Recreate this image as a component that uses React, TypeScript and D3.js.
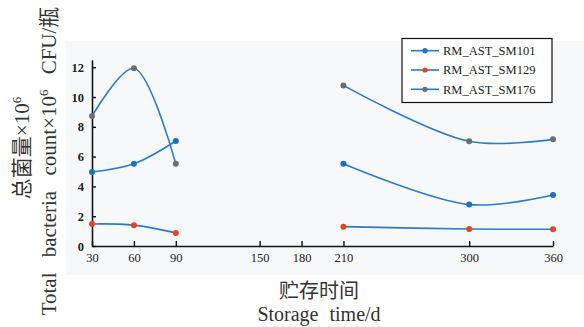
import * as d3 from "d3";
import { useEffect, useRef } from "react";

const width = 584;
const height = 327;

// storage days and bacteria counts (x10^6 CFU per bottle)
const days = [30, 60, 90, 210, 300, 360];
const sm101 = [4.97, 5.52, 7.05, 5.52, 2.78, 3.43];
const sm129 = [1.48, 1.4, 0.88, 1.3, 1.14, 1.12];
const sm176 = [8.72, 11.93, 5.52, 10.78, 7.03, 7.16];
// sampling was done in two runs, the lines are not joined between them
const runs = [
  [0, 1, 2],
  [3, 4, 5],
];

const seriesNames = ["RM_AST_SM101", "RM_AST_SM129", "RM_AST_SM176"];
const seriesValues = [sm101, sm129, sm176];
const dotColors = ["#1c6fc2", "#e8441f", "#6e6e6e"];
const lineColor = "#2a7cc8";

const xTicks = [30, 60, 90, 150, 180, 210, 300, 360];
const yTicks = [0, 2, 4, 6, 8, 10, 12];

const serif = "'Liberation Serif', 'Noto Sans CJK SC', serif";

export default function App() {
  const xAxisRef = useRef<SVGGElement | null>(null);
  const yAxisRef = useRef<SVGGElement | null>(null);

  const x = d3.scaleLinear().domain([30, 360]).range([92, 553]);
  const y = d3.scaleLinear().domain([0, 12.5]).range([246, 59.8]);

  const line = d3
    .line<[number, number]>()
    .x((d) => x(d[0]))
    .y((d) => y(d[1]))
    .curve(d3.curveCatmullRom.alpha(0.5));

  useEffect(() => {
    if (xAxisRef.current) {
      const g = d3.select(xAxisRef.current);
      g.selectAll("*").remove();
      g.call(
        d3
          .axisBottom(x)
          .tickValues(xTicks)
          .tickSizeInner(-5)
          .tickSizeOuter(0)
          .tickPadding(7)
          .tickFormat((d) => String(d)),
      );
      g.attr("font-family", serif);
      g.select(".domain").attr("stroke", "#111").attr("stroke-width", 1.6);
      g.selectAll(".tick line").attr("stroke", "#111").attr("stroke-width", 1.4);
      g.selectAll(".tick text")
        .attr("font-family", serif)
        .attr("font-size", 12.5)
        .attr("fill", "#222");
    }
    if (yAxisRef.current) {
      const g = d3.select(yAxisRef.current);
      g.selectAll("*").remove();
      g.call(
        d3
          .axisLeft(y)
          .tickValues(yTicks)
          .tickSizeInner(-4)
          .tickSizeOuter(0)
          .tickPadding(8)
          .tickFormat((d) => String(d)),
      );
      g.attr("font-family", serif);
      g.select(".domain").attr("stroke", "#111").attr("stroke-width", 1.6);
      g.selectAll(".tick line").attr("stroke", "#111").attr("stroke-width", 1.4);
      g.selectAll(".tick text")
        .attr("font-family", serif)
        .attr("font-size", 12.5)
        .attr("font-weight", "bold")
        .attr("fill", "#222");
    }
  });

  const legendX = 402;
  const legendY = 38.5;
  const rowGap = 19.3;

  return (
    <svg
      width={width}
      height={height}
      style={{ position: "absolute", left: 0, top: 0, background: "#fff" }}
    >
      <rect x={66} y={41} width={518} height={234} fill="#f7f8f9" />

      <g ref={yAxisRef} transform={`translate(${x(30)},0)`} />
      <g ref={xAxisRef} transform={`translate(0,${y(0)})`} />

      {seriesValues.map((vals, si) => (
        <g key={seriesNames[si]}>
          {runs.map((run, ri) => (
            <path
              key={ri}
              d={line(run.map((i) => [days[i], vals[i]] as [number, number])) ?? ""}
              fill="none"
              stroke={lineColor}
              strokeWidth={1.6}
            />
          ))}
          {vals.map((v, i) => (
            <circle
              key={i}
              cx={x(days[i])}
              cy={y(v)}
              r={3}
              fill={dotColors[si]}
            />
          ))}
        </g>
      ))}

      <rect
        x={legendX}
        y={legendY}
        width={150}
        height={64}
        fill="#fff"
        stroke="#111"
        strokeWidth={1.2}
      />
      {seriesNames.map((name, i) => {
        const cy = legendY + 12.2 + i * rowGap;
        return (
          <g key={name}>
            <line
              x1={legendX + 9}
              x2={legendX + 37}
              y1={cy}
              y2={cy}
              stroke={lineColor}
              strokeWidth={1.6}
            />
            <circle cx={legendX + 23} cy={cy} r={2.6} fill={dotColors[i]} />
            <text
              x={legendX + 41}
              y={cy}
              dy="0.35em"
              fontFamily={serif}
              fontSize={12.5}
              fill="#222"
            >
              {name}
            </text>
          </g>
        );
      })}

      <text
        x={319}
        y={298}
        textAnchor="middle"
        fontFamily={serif}
        fontSize={20}
        fill="#333"
      >
        贮存时间
      </text>
      <text
        x={319}
        y={321}
        textAnchor="middle"
        fontFamily={serif}
        fontSize={20}
        wordSpacing={6}
        fill="#333"
      >
        Storage time/d
      </text>

      <text
        transform={`translate(29,148) rotate(-90)`}
        textAnchor="middle"
        fontFamily={serif}
        fontSize={21}
        fill="#333"
      >
        总菌量×10
        <tspan dy={-8} fontSize={13}>
          6
        </tspan>
      </text>
      <text
        transform={`translate(56,161) rotate(-90)`}
        textAnchor="middle"
        fontFamily={serif}
        fontSize={21}
        wordSpacing={10}
        fill="#333"
      >
        Total bacteria count×10
        <tspan dy={-8} fontSize={13}>
          6
        </tspan>
        <tspan dy={8}> CFU/瓶</tspan>
      </text>
    </svg>
  );
}
